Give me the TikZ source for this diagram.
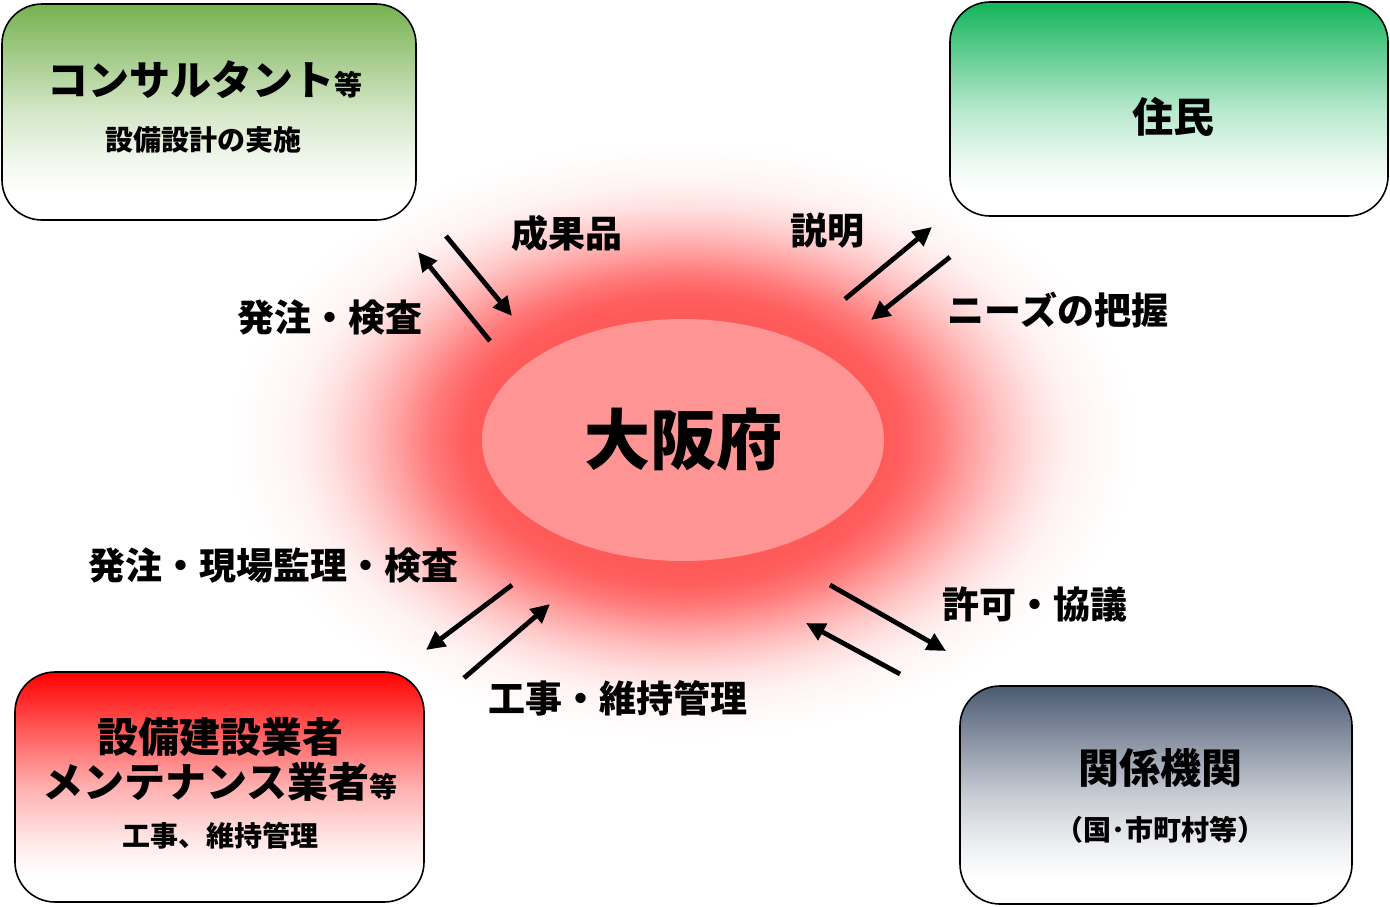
\documentclass[tikz,border=0pt]{standalone}
\usepackage{fontspec}
\setmainfont{Noto Sans CJK JP}
\usetikzlibrary{arrows.meta,shapes.geometric}
\definecolor{osakafill}{HTML}{FF9494}
\pgfdeclareradialshading{glowshade}{\pgfpointorigin}{rgb(0bp)=(1,0.353,0.353); rgb(11bp)=(1,0.353,0.353); rgb(12.1bp)=(1,0.373,0.373); rgb(13.9bp)=(1,0.478,0.478); rgb(15.7bp)=(1,0.627,0.627); rgb(17.6bp)=(1,0.769,0.769); rgb(19.4bp)=(1,0.878,0.878); rgb(21.2bp)=(1,0.949,0.949); rgb(23.1bp)=(1,0.98,0.98); rgb(25bp)=(1,1,1); rgb(50bp)=(1,1,1)}
\pgfdeclarehorizontalshading{consultshade}{100bp}{rgb(0bp)=(1,1,1); rgb(31bp)=(1,1,1); rgb(37.5bp)=(0.957,0.976,0.945); rgb(50bp)=(0.834,0.905,0.786); rgb(62.5bp)=(0.651,0.801,0.552); rgb(75bp)=(0.463,0.694,0.31); rgb(100bp)=(0.463,0.694,0.31)}
\pgfdeclarehorizontalshading{residentshade}{100bp}{rgb(0bp)=(1,1,1); rgb(31bp)=(1,1,1); rgb(37.5bp)=(0.926,0.976,0.948); rgb(50bp)=(0.712,0.909,0.799); rgb(62.5bp)=(0.396,0.809,0.579); rgb(75bp)=(0.071,0.706,0.353); rgb(100bp)=(0.071,0.706,0.353)}
\pgfdeclarehorizontalshading{buildershade}{100bp}{rgb(0bp)=(1,1,1); rgb(31bp)=(1,1,1); rgb(37.5bp)=(1,0.92,0.92); rgb(50bp)=(1,0.69,0.69); rgb(62.5bp)=(1,0.35,0.35); rgb(75bp)=(1,0,0); rgb(100bp)=(1,0,0)}
\pgfdeclarehorizontalshading{agencyshade}{100bp}{rgb(0bp)=(1,1,1); rgb(31bp)=(1,1,1); rgb(37.5bp)=(0.944,0.948,0.956); rgb(50bp)=(0.781,0.799,0.829); rgb(62.5bp)=(0.541,0.579,0.641); rgb(75bp)=(0.294,0.353,0.447); rgb(100bp)=(0.294,0.353,0.447)}
\tikzset{
  boxshape/.style={draw=black, line width=1.6pt, rounded corners=40pt, shading=#1, shading angle=90, inner sep=0},
  ttl/.style={font=\fontsize{41}{45}\selectfont\bfseries, inner sep=0},
  subttl/.style={font=\fontsize{28}{32}\selectfont\bfseries, inner sep=0},
  lbl/.style={font=\fontsize{37}{40}\selectfont\bfseries, inner sep=0},
  flow/.style={line width=4.8pt, -{Triangle[length=19pt,width=18pt]}}
}
\newcommand{\smallnto}{{\fontsize{28}{30}\selectfont 等}}
\begin{document}
\begin{tikzpicture}[x=1pt,y=-1pt]
\useasboundingbox (0,0) rectangle (1390,906);
\fill[white] (0,0) rectangle (1390,906);
% glow
\shade[shading=glowshade] (683,440) ellipse [x radius=455pt, y radius=300pt];
\node[ellipse, fill=osakafill, minimum width=402pt, minimum height=242pt, inner sep=0,
      font=\fontsize{66}{70}\selectfont\bfseries] (osaka) at (683,440) {大阪府};
% boxes
\node[boxshape=consultshade, minimum width=414pt, minimum height=216pt] (consult) at (209,112) {};
\node[boxshape=residentshade, minimum width=438pt, minimum height=214pt] (resident) at (1169,109) {};
\node[boxshape=buildershade, minimum width=409pt, minimum height=230pt] (builder) at (219.5,787) {};
\node[boxshape=agencyshade, minimum width=392pt, minimum height=218pt] (agency) at (1156,795) {};
% box texts
\node[ttl] (consultname) at (205,80) {コンサルタント\smallnto};
\node[subttl] (consultwork) at (203,140) {設備設計の実施};
\node[ttl] (residentname) at (1173,117) {住民};
\node[ttl] (buildername) at (220,737) {設備建設業者};
\node[ttl] (maintname) at (220,782) {メンテナンス業者\smallnto};
\node[subttl] (builderwork) at (220,836) {工事、維持管理};
\node[ttl] (agencyname) at (1160,768) {関係機関};
\node[subttl] (agencysub) at (1160,830) {（国･市町村等）};
% arrow endpoints
\coordinate (a1s) at (446,236); \coordinate (a1e) at (512,316);
\coordinate (a2s) at (490,341); \coordinate (a2e) at (418,252);
\coordinate (a3s) at (845,299); \coordinate (a3e) at (932,227);
\coordinate (a4s) at (950,257); \coordinate (a4e) at (871,320);
\coordinate (a5s) at (512,585); \coordinate (a5e) at (426,650);
\coordinate (a6s) at (464,678); \coordinate (a6e) at (550,604);
\coordinate (a7s) at (830,585); \coordinate (a7e) at (946,651);
\coordinate (a8s) at (900,674); \coordinate (a8e) at (806,623);
\draw[flow] (a1s) -- (a1e);
\draw[flow] (a2s) -- (a2e);
\draw[flow] (a3s) -- (a3e);
\draw[flow] (a4s) -- (a4e);
\draw[flow] (a5s) -- (a5e);
\draw[flow] (a6s) -- (a6e);
\draw[flow] (a7s) -- (a7e);
\draw[flow] (a8s) -- (a8e);
% labels
\node[lbl] (lseika) at (567,233) {成果品};
\node[lbl] (lhatchu) at (330,318) {発注・検査};
\node[lbl] (lsetsumei) at (827,231) {説明};
\node[lbl] (lneeds) at (1058,310) {ニーズの把握};
\node[lbl] (lgenba) at (273,566) {発注・現場監理・検査};
\node[lbl] (lkouji) at (618,698) {工事・維持管理};
\node[lbl] (lkyoka) at (1035,604) {許可・協議};
\end{tikzpicture}
\end{document}
